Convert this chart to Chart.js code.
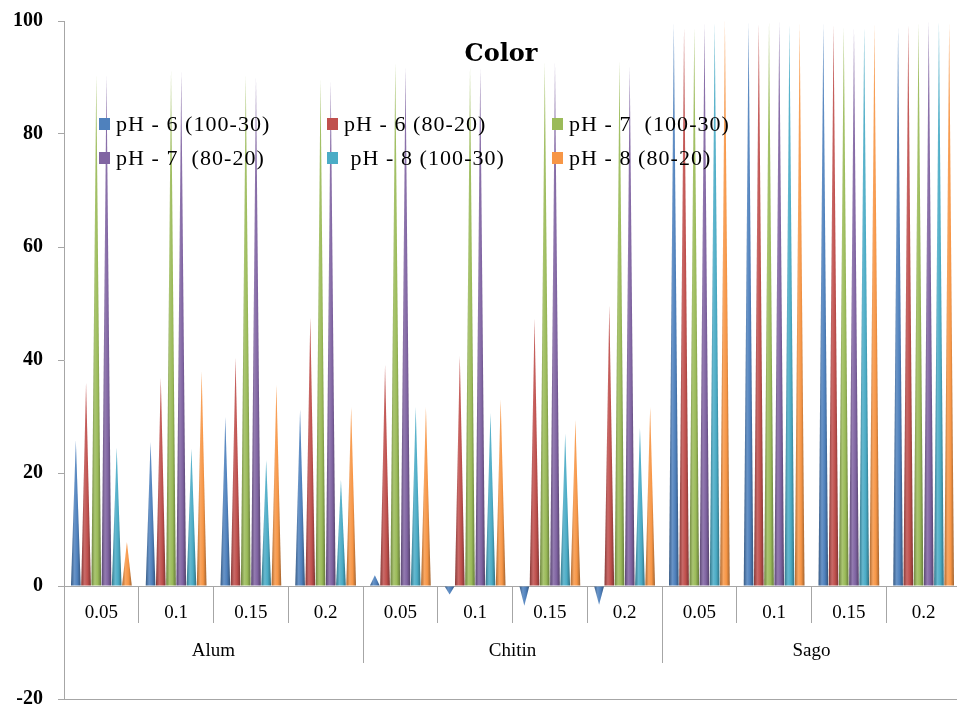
<!DOCTYPE html>
<html>
<head>
<meta charset="utf-8">
<script src="https://cdn.jsdelivr.net/npm/chart.js"></script>
<style>
  body { margin: 0; overflow: hidden; background: #fff; }
  #wrap { position: relative; width: 970px; height: 706px; }
  #title {
    position: absolute; left: 0; width: 1002px; top: 38px; text-align: center;
    font: bold 24px "DejaVu Serif", serif; color: #000;
  }
  #legend { position: absolute; left: 99px; top: 107px; }
  .item {
    position: absolute; white-space: pre; display: flex; align-items: center;
    font: 22px "Liberation Serif", serif; letter-spacing: 1.05px; color: #000; height: 34px;
  }
  .box { width: 11px; height: 12px; margin-right: 6px; flex: none; }
</style>
</head>
<body>
<div id="wrap">
  <canvas id="myChart"></canvas>
  <div id="title">Color</div>
  <div id="legend"></div>
</div>
<script>
// categories
const subLabels = ['0.05', '0.1', '0.15', '0.2', '0.05', '0.1', '0.15', '0.2', '0.05', '0.1', '0.15', '0.2'];
const groupLabels = ['Alum', 'Chitin', 'Sago'];
const yTicks = [-20, 0, 20, 40, 60, 80, 100];

// series, in the order Alum x4, Chitin x4, Sago x4
const seriesNames = ['pH - 6 (100-30)', 'pH - 6 (80-20)', 'pH - 7  (100-30)', 'pH - 7  (80-20)', ' pH - 8 (100-30)', 'pH - 8 (80-20)'];
const ph6a = [25.8, 25.5, 29.9, 31.3, 1.9, -1.5, -3.5, -3.3, 99.6, 99.8, 99.6, 98.9];
const ph6b = [36.0, 36.8, 40.4, 47.6, 39.1, 40.7, 47.4, 49.7, 98.9, 99.7, 99.4, 99.5];
const ph7a = [90.4, 91.3, 90.4, 89.7, 92.6, 91.9, 92.7, 93.0, 98.9, 99.9, 99.0, 99.7];
const ph7b = [90.4, 91.0, 90.0, 89.4, 91.9, 91.6, 92.7, 92.0, 99.6, 99.9, 98.7, 100];
const ph8a = [24.5, 24.3, 22.3, 18.8, 31.7, 30.6, 27.0, 28.0, 99.8, 99.5, 99.0, 100];
const ph8b = [7.8, 38.0, 35.6, 31.7, 31.7, 33.0, 29.4, 31.7, 100, 99.5, 99.4, 99.6];
const colors = ['#4F81BD', '#C0504D', '#9BBB59', '#8064A2', '#4BACC6', '#F79646'];

const axisGray = '#A6A6A6';

function shade(hex, amt) {
  const n = parseInt(hex.slice(1), 16);
  let r = n >> 16, g = (n >> 8) & 255, b = n & 255;
  const t = amt < 0 ? 0 : 255, p = Math.abs(amt);
  r = Math.round(r + (t - r) * p);
  g = Math.round(g + (t - g) * p);
  b = Math.round(b + (t - b) * p);
  return `rgb(${r},${g},${b})`;
}

// draw every bar as a shaded cone from its base to its value
const conePlugin = {
  id: 'cones',
  beforeDatasetDraw(chart, args) {
    const ctx = chart.ctx;
    const area = chart.chartArea;
    const color = chart.data.datasets[args.index].backgroundColor;
    ctx.save();
    ctx.beginPath();
    ctx.rect(area.left, area.top - 2, area.right - area.left, area.bottom - area.top + 2);
    ctx.clip();
    args.meta.data.forEach(bar => {
      const half = bar.width / 2;
      const g = ctx.createLinearGradient(bar.x - half, 0, bar.x + half, 0);
      g.addColorStop(0, shade(color, -0.3));
      g.addColorStop(0.35, shade(color, 0.15));
      g.addColorStop(0.65, color);
      g.addColorStop(1, shade(color, -0.35));
      ctx.beginPath();
      ctx.moveTo(bar.x - half, bar.base);
      ctx.lineTo(bar.x, bar.y);
      ctx.lineTo(bar.x + half, bar.base);
      ctx.closePath();
      ctx.fillStyle = g;
      ctx.fill();
    });
    ctx.restore();
    return false;
  }
};

const seriesData = [ph6a, ph6b, ph7a, ph7b, ph8a, ph8b];

const ctx = document.getElementById('myChart').getContext('2d');
let myChart = new Chart(ctx, {
  type: 'bar',
  data: {
    labels: subLabels,
    datasets: seriesData.map((d, i) => ({
      label: seriesNames[i],
      data: d,
      backgroundColor: colors[i],
      categoryPercentage: 0.82,
      barPercentage: 0.95
    }))
  },
  plugins: [conePlugin],
  options: {
    responsive: true,
    maintainAspectRatio: false,
    animation: false,
    layout: { padding: { left: 12, right: 9, top: 21, bottom: 7 } },
    plugins: { legend: { display: false }, tooltip: { enabled: false } },
    scales: {
      x: {
        position: { y: 0 },
        offset: true,
        grid: { offset: true, drawOnChartArea: false, tickLength: 36, color: axisGray },
        border: { color: axisGray },
        ticks: { padding: -20, maxRotation: 0, autoSkip: false, color: '#000',
                 font: { family: 'Liberation Serif', size: 19 } }
      },
      x2: {
        axis: 'x',
        type: 'category',
        labels: groupLabels,
        position: { y: 0 },
        offset: true,
        grid: { offset: true, drawOnChartArea: false, tickLength: 76, color: axisGray },
        border: { color: axisGray },
        ticks: { padding: -22, maxRotation: 0, color: '#000',
                 font: { family: 'Liberation Serif', size: 19 } }
      },
      y: {
        min: -20,
        max: 100,
        afterBuildTicks: s => { s.ticks = yTicks.map(v => ({ value: v })); },
        afterFit: s => { s.width = 52; s.paddingTop = 0; s.paddingBottom = 0; },
        grid: {
          color: c => (c.tick && c.tick.value === -20 ? axisGray : 'rgba(0,0,0,0)'),
          tickColor: axisGray,
          tickLength: 6
        },
        border: { color: axisGray },
        ticks: { padding: 15, color: '#000', font: { family: 'Liberation Serif', size: 20, weight: 'bold' } }
      }
    }
  }
});

// legend, 3 columns x 2 rows
const colX = [0, 228, 453];
const legendDiv = document.getElementById('legend');
seriesNames.forEach((name, i) => {
  const item = document.createElement('div');
  item.className = 'item';
  item.style.left = colX[i % 3] + 'px';
  item.style.top = Math.floor(i / 3) * 34 + 'px';
  item.innerHTML = `<span class="box" style="background:${colors[i]}"></span><span></span>`;
  item.lastChild.textContent = name;
  legendDiv.appendChild(item);
});
</script>
</body>
</html>
